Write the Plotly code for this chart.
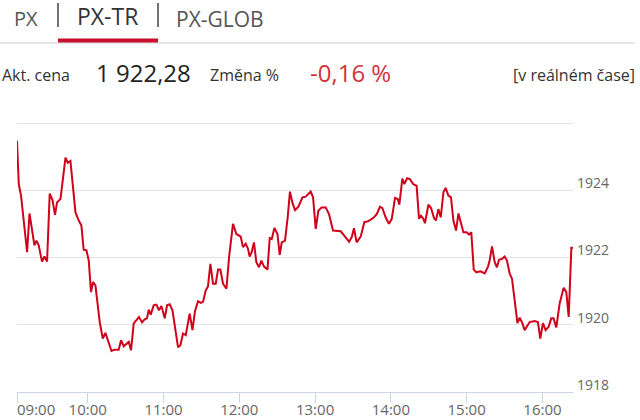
import plotly.graph_objects as go

# minutes after 09:00 and index values (PX-TR intraday)
minutes = [4.0, 5.4, 7.2, 12.0, 13.9, 15.9, 17.8, 19.4, 21.2, 23.8, 25.7, 27.8, 29.9, 32.1, 34.1, 35.7,
           38.4, 42.4, 44.2, 46.3, 50.3, 52.9, 55.0, 56.8, 59.0, 60.8, 62.6, 64.2, 66.1, 69.5, 71.9, 74.0,
           76.1, 78.8, 81.1, 84.5, 86.4, 88.5, 92.5, 94.3, 96.4, 98.6, 100.6, 103.0, 105.1, 106.9, 108.3,
           109.9, 112.2, 114.4, 116.4, 118.3, 121.0, 122.8, 124.9, 127.1, 129.4, 131.5, 133.4, 135.4,
           137.6, 140.7, 142.9, 144.9, 147.3, 149.5, 151.3, 153.4, 155.2, 157.1, 159.2, 161.3, 163.2,
           165.0, 167.1, 169.8, 171.9, 175.0, 177.7, 181.1, 182.9, 185.1, 186.9, 188.2, 189.8, 191.6,
           193.5, 195.6, 197.5, 199.6, 202.3, 204.1, 205.7, 207.8, 210.2, 212.0, 213.6, 216.2, 218.3,
           220.1, 222.0, 224.1, 226.8, 230.0, 232.6, 234.7, 236.5, 238.4, 240.5, 242.6, 245.2, 248.4,
           251.0, 254.2, 260.3, 264.2, 266.9, 269.0, 270.8, 272.9, 276.1, 279.0, 282.2, 286.2, 288.8,
           291.4, 293.3, 295.9, 298.5, 300.7, 303.3, 305.4, 306.7, 309.1, 310.7, 312.8, 315.1, 317.8,
           320.4, 322.3, 323.8, 325.7, 327.0, 329.7, 331.8, 334.1, 335.7, 337.6, 339.5, 341.6, 343.4,
           345.5, 347.6, 349.5, 351.6, 353.5, 355.5, 357.4, 360.0, 361.9, 363.7, 365.6, 367.7, 370.9,
           374.3, 376.9, 378.2, 380.1, 382.2, 384.0, 385.6, 388.0, 390.1, 391.9, 394.1, 395.9, 398.0,
           400.2, 402.0, 404.1, 405.9, 409.9, 413.8, 416.4, 418.3, 420.4, 422.5, 424.9, 427.0, 428.8,
           431.0, 433.6, 436.8, 438.9, 440.8, 442.9, 444.2]
values = [1925.47, 1924.18, 1923.84, 1922.16, 1923.31, 1922.80, 1922.36, 1922.50, 1922.36, 1921.88,
          1922.03, 1921.88, 1923.90, 1923.71, 1923.27, 1923.64, 1923.74, 1924.97, 1924.82, 1924.87,
          1923.34, 1923.10, 1922.95, 1922.23, 1922.21, 1921.91, 1920.97, 1921.27, 1921.17, 1920.08,
          1919.59, 1919.76, 1919.54, 1919.22, 1919.26, 1919.26, 1919.54, 1919.36, 1919.49, 1919.24,
          1920.04, 1920.13, 1920.23, 1920.07, 1920.16, 1920.19, 1920.45, 1920.30, 1920.58, 1920.60,
          1920.43, 1920.56, 1920.19, 1920.58, 1920.61, 1920.43, 1919.79, 1919.33, 1919.39, 1919.74,
          1919.69, 1920.33, 1919.84, 1920.40, 1920.70, 1920.65, 1920.68, 1921.02, 1921.14, 1921.81,
          1921.22, 1921.22, 1921.64, 1921.64, 1921.22, 1921.07, 1922.01, 1923.00, 1922.70, 1922.62,
          1922.31, 1922.41, 1922.26, 1922.03, 1922.16, 1922.45, 1921.86, 1921.71, 1921.91, 1921.73,
          1921.64, 1922.58, 1922.55, 1922.88, 1922.70, 1922.08, 1922.45, 1922.50, 1923.19, 1923.96,
          1923.64, 1923.41, 1923.51, 1923.79, 1923.81, 1923.89, 1923.96, 1923.79, 1922.85, 1923.39,
          1923.49, 1923.49, 1923.29, 1922.80, 1922.78, 1922.60, 1922.47, 1922.60, 1922.87, 1922.45,
          1922.62, 1923.05, 1923.08, 1923.18, 1923.29, 1923.51, 1923.47, 1923.19, 1923.00, 1923.15,
          1923.77, 1923.74, 1923.57, 1924.35, 1924.18, 1924.36, 1924.33, 1924.18, 1924.13, 1923.15,
          1923.24, 1923.15, 1923.02, 1923.57, 1923.47, 1923.18, 1923.10, 1923.44, 1923.19, 1923.94,
          1924.07, 1923.84, 1923.79, 1923.10, 1922.80, 1923.31, 1922.98, 1922.75, 1922.75, 1922.68,
          1922.75, 1921.64, 1921.56, 1921.59, 1921.53, 1921.73, 1921.91, 1922.33, 1921.86, 1921.71,
          1921.93, 1921.96, 1922.03, 1921.91, 1921.52, 1921.37, 1920.73, 1920.05, 1920.21, 1920.05,
          1919.84, 1920.08, 1920.11, 1920.08, 1919.59, 1920.05, 1919.84, 1919.94, 1920.19, 1920.19,
          1919.92, 1920.63, 1921.10, 1920.97, 1920.23, 1922.29, 1922.28]

x_tick_minutes = [4.0, 60, 120, 180, 240, 300, 360, 420]
x_tick_labels = ["09:00", "10:00", "11:00", "12:00", "13:00", "14:00", "15:00", "16:00"]
y_ticks = [1918, 1920, 1922, 1924, 1926]
y_tick_labels = ["1918", "1920", "1922", "1924", ""]

tabs = ["PX", "PX-TR", "PX-GLOB"]
price_label = "Akt. cena"
price_text = "1 922,28"
change_label = "Změna %"
change_text = "-0,16 %"
realtime_text = "[v reálném čase]"

W, H = 640, 420
L, R, T, B = 17, 67, 122, 28
PW, PH = W - L - R, H - T - B


def px(xp):
    return (xp - L) / PW


def py(yp):
    return (H - B - yp) / PH


FONT = "Open Sans"

fig = go.Figure()
fig.add_trace(go.Scatter(x=minutes, y=values, mode="lines",
                         line=dict(color="#d0021b", width=2), hoverinfo="skip",
                         showlegend=False))

annotations = []


def text(xp, yp, s, size, color, anchor="left"):
    annotations.append(dict(x=px(xp), y=py(yp), xref="paper", yref="paper", text=s,
                            showarrow=False, xanchor=anchor, yanchor="middle",
                            font=dict(family=FONT, size=size, color=color)))


text(12, 19, tabs[0], 20, "#555555")
text(75, 16.5, tabs[1], 23, "#333333")
text(174, 19, tabs[2], 21, "#555555")
text(0, 75, price_label, 16, "#333333")
text(94, 73, price_text, 24, "#222222")
text(208, 75, change_label, 16, "#333333")
text(308, 73, change_text, 24, "#d1323c")
text(637, 75, realtime_text, 16, "#333333", anchor="right")
text(15, 409, x_tick_labels[0], 15, "#666666")

shapes = [
    dict(type="line", xref="paper", yref="paper", x0=px(58), x1=px(58), y0=py(3), y1=py(27),
         line=dict(color="#444444", width=1.5)),
    dict(type="line", xref="paper", yref="paper", x0=px(158), x1=px(158), y0=py(3), y1=py(27),
         line=dict(color="#444444", width=1.5)),
    dict(type="line", xref="paper", yref="paper", x0=px(0), x1=px(635), y0=py(43), y1=py(43),
         line=dict(color="#dddddd", width=1.5)),
    dict(type="line", xref="paper", yref="paper", x0=px(58), x1=px(158), y0=py(40.5), y1=py(40.5),
         line=dict(color="#c8102e", width=4)),
]

fig.update_layout(
    width=W, height=H,
    margin=dict(l=L, r=R, t=T, b=B, pad=0, autoexpand=False),
    paper_bgcolor="white", plot_bgcolor="white",
    font=dict(family=FONT, color="#666666"),
    annotations=annotations, shapes=shapes,
    xaxis=dict(range=[4.0, 444.2], tickmode="array", tickvals=x_tick_minutes,
               ticktext=[""] + x_tick_labels[1:], showgrid=False, zeroline=False,
               showline=True, linecolor="#ccd6eb", linewidth=1, ticks="outside",
               ticklen=10, tickcolor="#ccd6eb", tickwidth=1, automargin=False,
               ticklabelstandoff=-6, tickfont=dict(size=15, color="#666666")),
    yaxis=dict(range=[1918, 1926.03], side="right", tickmode="array", tickvals=y_ticks,
               ticktext=y_tick_labels, showgrid=True, gridcolor="#e3e3e3", gridwidth=1,
               zeroline=False, showline=False, ticks="", ticklabelshift=-7, automargin=False,
               ticklabelstandoff=3, tickfont=dict(size=14, color="#666666")),
)

fig.write_html("out.html", config={"displayModeBar": False},
               post_script="document.body.style.margin='0px';")
